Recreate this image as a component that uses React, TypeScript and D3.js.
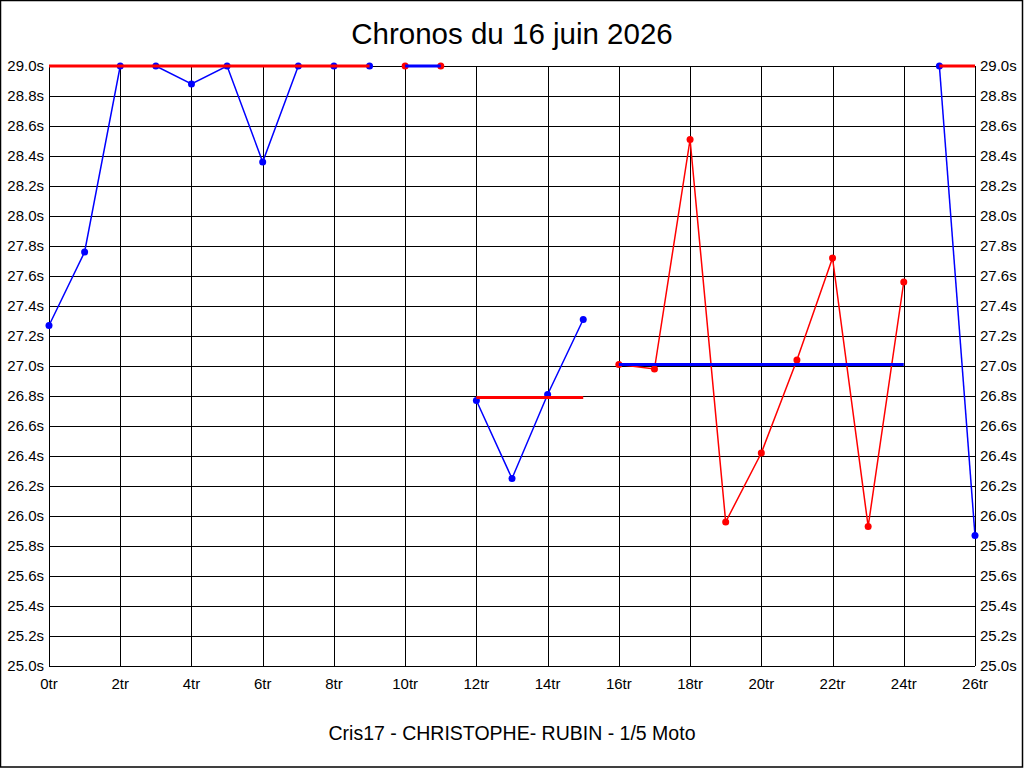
import React, { useEffect, useRef } from 'react';
import * as d3 from 'd3';

// lap times (values above 29.0s are shown clipped at the top)
const lapTimes = [
	27.27, 27.76, 29.0, 29.0, 28.88, 29.0, 28.36, 29.0, 29.0, 29.0,
	29.0, 29.0,
	26.77, 26.25, 26.81, 27.31,
	27.01, 26.98, 28.51, 25.96, 26.42, 27.04, 27.72, 25.93, 27.56,
	29.0, 25.87,
];

// runs of laps (first lap, last lap), their mean line and colours
const runStart = [0, 10, 12, 16, 25];
const runEnd = [9, 11, 15, 24, 26];
const runAverage = [29.0, 29.0, 26.79, 27.01, 29.0];
const runColor = ['blue', 'red', 'blue', 'red', 'blue'];
const avgColor = ['red', 'blue', 'red', 'blue', 'red'];

const xTicks = d3.range(0, 27, 2);
const yTicks = d3.range(25.0, 29.01, 0.2);

const title = 'Chronos du 16 juin 2026';
const caption = 'Cris17 - CHRISTOPHE- RUBIN - 1/5 Moto';

const LapChart: React.FC = () => {
	const svgRef = useRef<SVGSVGElement>(null);

	useEffect(() => {
		if (!svgRef.current) return;

		const width = 1024;
		const height = 768;
		const margin = { top: 66, right: 49, bottom: 102, left: 49 };

		const xScale = d3.scaleLinear()
			.domain([0, 26])
			.range([margin.left, width - margin.right]);

		const yScale = d3.scaleLinear()
			.domain([25, 29])
			.range([height - margin.bottom, margin.top])
			.clamp(true);

		const svg = d3.select(svgRef.current)
			.attr('width', width)
			.attr('height', height);

		svg.selectAll('*').remove();

		const font = 'Arial, "Liberation Sans", sans-serif';

		svg.append('rect')
			.attr('x', 0.5)
			.attr('y', 0.5)
			.attr('width', width - 2)
			.attr('height', height - 1.5)
			.attr('fill', 'white')
			.attr('stroke', 'black')
			.attr('stroke-width', 1.5);

		// grid
		const grid = svg.append('g').attr('shape-rendering', 'crispEdges');
		yTicks.forEach(t => {
			grid.append('line')
				.attr('x1', xScale(0))
				.attr('x2', xScale(26))
				.attr('y1', Math.round(yScale(t)) + 0.5)
				.attr('y2', Math.round(yScale(t)) + 0.5)
				.attr('stroke', 'black');
		});
		xTicks.forEach(t => {
			grid.append('line')
				.attr('x1', Math.round(xScale(t)) + 0.5)
				.attr('x2', Math.round(xScale(t)) + 0.5)
				.attr('y1', yScale(29))
				.attr('y2', yScale(25))
				.attr('stroke', 'black');
		});

		// tick labels
		yTicks.forEach(t => {
			svg.append('text')
				.attr('x', xScale(0) - 5)
				.attr('y', yScale(t))
				.attr('dy', '0.36em')
				.attr('text-anchor', 'end')
				.attr('font-family', font)
				.attr('font-size', 15)
				.text(`${t.toFixed(1)}s`);
			svg.append('text')
				.attr('x', xScale(26) + 5)
				.attr('y', yScale(t))
				.attr('dy', '0.36em')
				.attr('text-anchor', 'start')
				.attr('font-family', font)
				.attr('font-size', 15)
				.text(`${t.toFixed(1)}s`);
		});
		xTicks.forEach(t => {
			svg.append('text')
				.attr('x', xScale(t))
				.attr('y', yScale(25) + 18)
				.attr('dy', '0.36em')
				.attr('text-anchor', 'middle')
				.attr('font-family', font)
				.attr('font-size', 15)
				.text(`${t}tr`);
		});

		const line = d3.line<number>()
			.x(d => xScale(d))
			.y(d => yScale(lapTimes[d]));

		runStart.forEach((start, i) => {
			const laps = d3.range(start, runEnd[i] + 1);

			svg.append('path')
				.datum(laps)
				.attr('d', line)
				.attr('fill', 'none')
				.attr('stroke', runColor[i])
				.attr('stroke-width', 1.5);

			svg.selectAll(null)
				.data(laps)
				.enter()
				.append('circle')
				.attr('cx', d => xScale(d))
				.attr('cy', d => yScale(lapTimes[d]))
				.attr('r', 3.5)
				.attr('fill', runColor[i]);

			svg.append('line')
				.attr('x1', xScale(start))
				.attr('x2', xScale(runEnd[i]))
				.attr('y1', yScale(runAverage[i]))
				.attr('y2', yScale(runAverage[i]))
				.attr('stroke', avgColor[i])
				.attr('stroke-width', 3);
		});

		svg.append('text')
			.attr('x', width / 2)
			.attr('y', 44)
			.attr('text-anchor', 'middle')
			.attr('font-family', font)
			.attr('font-size', 29.5)
			.text(title);

		svg.append('text')
			.attr('x', width / 2)
			.attr('y', 740)
			.attr('text-anchor', 'middle')
			.attr('font-family', font)
			.attr('font-size', 19.5)
			.text(caption);
	}, []);

	return <svg ref={svgRef} style={{ position: 'absolute', left: 0, top: 0 }}></svg>;
};

export default function App() {
	return <LapChart />;
}
